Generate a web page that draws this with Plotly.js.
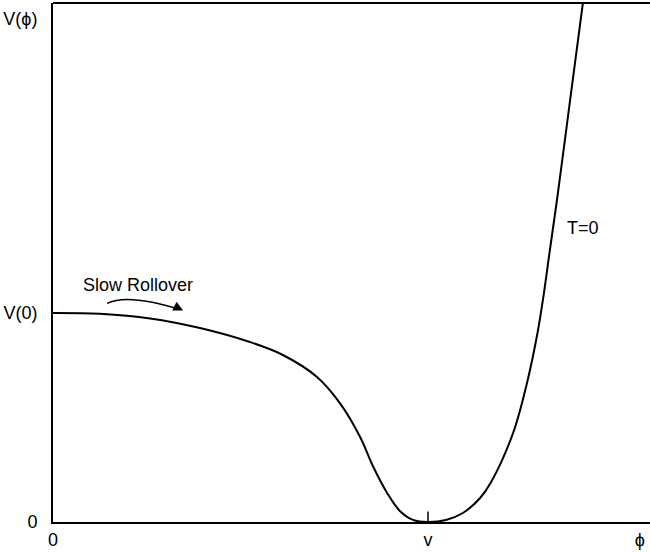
<!DOCTYPE html>
<html>
<head>
<meta charset="utf-8">
<script src="https://cdn.plot.ly/plotly-3.0.1.min.js"></script>
<style>html,body{margin:0;padding:0;background:#fff;}#chart{width:650px;height:553px;}</style>
</head>
<body>
<div id="chart"></div>
<script>
// Potential V(phi) at T=0 (x in units of v, y in units of V(0))
const phi = [0, 0.125, 0.259, 0.392, 0.525, 0.613, 0.704, 0.765, 0.819, 0.853, 0.891, 0.925, 0.96, 1.0, 1.048, 1.093, 1.139, 1.168, 1.227, 1.264, 1.292, 1.307, 1.325, 1.344, 1.379, 1.413];
const V   = [1.0, 0.996, 0.974, 0.928, 0.861, 0.799, 0.694, 0.569, 0.407, 0.268, 0.139, 0.053, 0.010, 0, 0.010, 0.043, 0.115, 0.19, 0.426, 0.665, 0.904, 1.07, 1.301, 1.541, 2.019, 2.483];

const xTickVals = [0, 1, 1.565];
const xTickText = ['0', 'v', 'ϕ'];
const yTickVals = [0, 1, 2.41];
const yTickText = ['0', 'V(0)', 'V(ϕ)'];

const font = {family: '"Liberation Sans", Arial, sans-serif', size: 18, color: '#000'};

const data = [{
  x: phi, y: V, type: 'scatter', mode: 'lines',
  line: {color: '#000', width: 2, shape: 'spline', smoothing: 1},
  hoverinfo: 'skip'
}];

const layout = {
  width: 650, height: 553,
  margin: {l: 53, r: 0, t: 3, b: 31},
  paper_bgcolor: '#fff', plot_bgcolor: '#fff',
  showlegend: false,
  font: font,
  xaxis: {
    range: [0, 1.592], showgrid: false, zeroline: false,
    showline: true, linecolor: '#000', linewidth: 2,
    tickvals: xTickVals, ticktext: xTickText, ticks: '',
    tickfont: font, fixedrange: true
  },
  yaxis: {
    range: [0, 2.483], showgrid: false, zeroline: false,
    showline: true, linecolor: '#000', linewidth: 2,
    tickvals: yTickVals, ticktext: yTickText, ticks: '',
    ticklabelstandoff: 10, tickfont: font, fixedrange: true
  },
  shapes: [
    {type: 'line', xref: 'paper', yref: 'paper', x0: 0, x1: 1, y0: 1, y1: 1, line: {color: '#000', width: 2}},
    {type: 'line', xref: 'x', yref: 'y', x0: 1, x1: 1, y0: 0, y1: 0.05, line: {color: '#000', width: 1.5}},
    {type: 'path', xref: 'x', yref: 'y', path: 'M 0.144 1.046 Q 0.2 1.095 0.34 1.016', line: {color: '#000', width: 1.5}}
  ],
  annotations: [
    {x: 0.227, y: 1.135, xref: 'x', yref: 'y', text: 'Slow Rollover', showarrow: false, font: font, xanchor: 'center', yanchor: 'middle'},
    {x: 0.347, y: 1.012, xref: 'x', yref: 'y', text: '', showarrow: true, arrowhead: 2, arrowsize: 1.3, arrowwidth: 1.5, arrowcolor: '#000', ax: -10, ay: -5},
    {x: 1.413, y: 1.407, xref: 'x', yref: 'y', text: 'T=0', showarrow: false, font: font, xanchor: 'center', yanchor: 'middle'}
  ]
};

Plotly.newPlot('chart', data, layout, {displayModeBar: false, staticPlot: true});
</script>
</body>
</html>
